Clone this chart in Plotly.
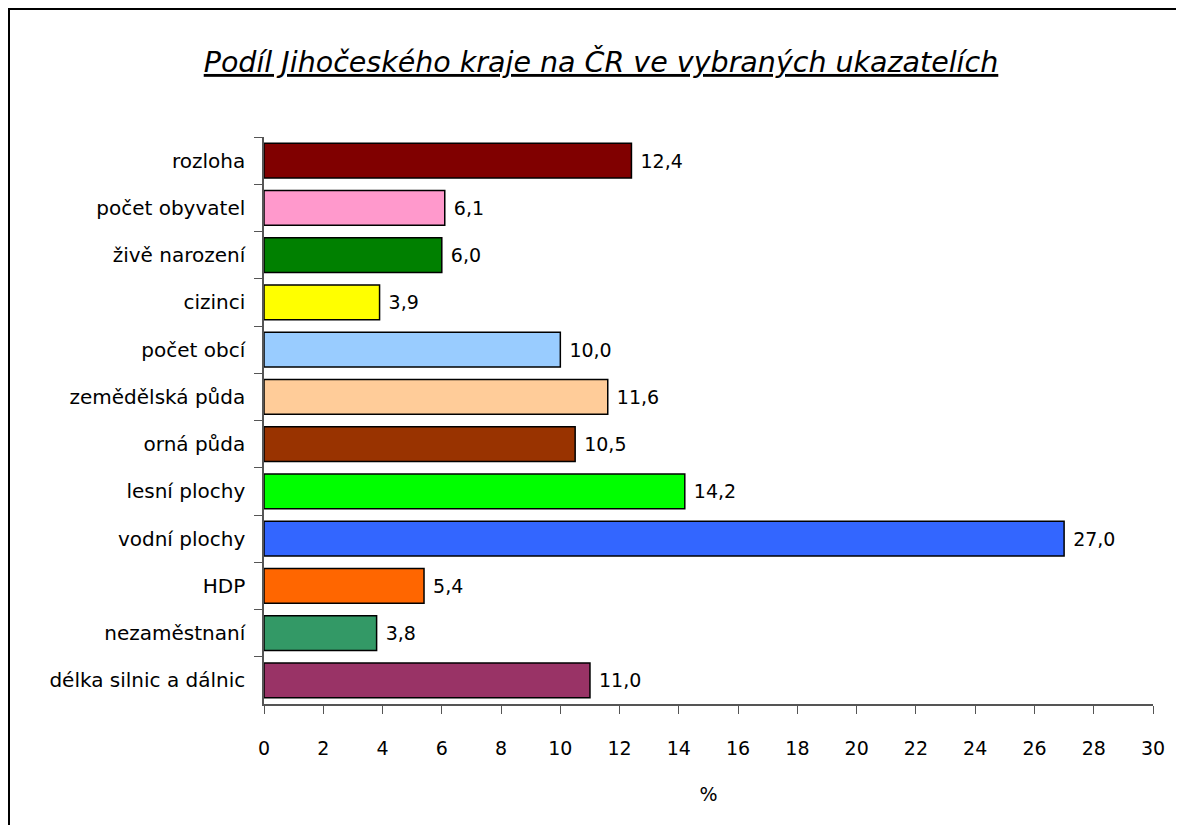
import plotly.graph_objects as go

# shares of the South Bohemian region in the Czech Republic (%)
categories = [
    "rozloha",
    "počet obyvatel",
    "živě narození",
    "cizinci",
    "počet obcí",
    "zemědělská půda",
    "orná půda",
    "lesní plochy",
    "vodní plochy",
    "HDP",
    "nezaměstnaní",
    "délka silnic a dálnic",
]
values = [12.4, 6.1, 6.0, 3.9, 10.0, 11.6, 10.5, 14.2, 27.0, 5.4, 3.8, 11.0]
bar_colors = [
    "#800000", "#FF99CC", "#008000", "#FFFF00", "#99CCFF", "#FFCC99",
    "#993300", "#00FF00", "#3366FF", "#FF6600", "#339966", "#993366",
]
x_ticks = list(range(0, 31, 2))

FONT = "DejaVu Sans"
# page body has an 8px margin, so the figure is a bit smaller than the window
W, H = 1176, 817
ml, mr, mt, mb = 256, 31, 129, 121

fig = go.Figure()
fig.add_trace(
    go.Bar(
        x=values,
        y=categories,
        orientation="h",
        marker=dict(color=bar_colors, line=dict(color="black", width=1.5)),
        texttemplate="\u00a0%{x:.1f}",
        textposition="outside",
        textfont=dict(family=FONT, size=19, color="black"),
        cliponaxis=False,
        showlegend=False,
    )
)

# outer chart border: only left and top edges are visible in the source
pw, ph = W - ml - mr, H - mt - mb
bx0 = (1 - ml) / pw
bx1 = (W - ml) / pw
by0 = -(H - mt - ph) / ph
by1 = (mt - 1) / ph + 1
fig.add_shape(
    type="path", xref="paper", yref="paper",
    path=f"M {bx0},{by0} L {bx0},{by1} L {bx1},{by1}",
    line=dict(color="black", width=2), layer="below",
)

fig.update_layout(
    width=W,
    height=H,
    margin=dict(l=ml, r=mr, t=mt, b=mb),
    paper_bgcolor="white",
    plot_bgcolor="white",
    separators=", ",
    bargap=0.26,
    title=dict(
        text="<u><i>Podíl Jihočeského kraje na ČR ve vybraných ukazatelích</i></u>",
        x=593 / W, xref="container", xanchor="center",
        y=1 - 54 / H, yref="container", yanchor="middle",
        font=dict(family=FONT, size=28.5, color="black"),
    ),
    xaxis=dict(
        range=[0, 30],
        tickvals=x_ticks,
        ticks="outside",
        ticklen=8,
        tickcolor="#555555",
        ticklabelstandoff=18,
        showline=True,
        linecolor="#555555",
        linewidth=1.5,
        showgrid=False,
        zeroline=False,
        tickfont=dict(family=FONT, size=19, color="black"),
        title=dict(text="%", font=dict(family=FONT, size=19, color="black"), standoff=30),
        fixedrange=True,
    ),
    yaxis=dict(
        autorange="reversed",
        ticks="outside",
        tickson="boundaries",
        ticklen=8,
        tickcolor="#555555",
        ticklabelstandoff=13,
        showline=True,
        linecolor="#555555",
        linewidth=1.5,
        showgrid=False,
        tickfont=dict(family=FONT, size=20, color="black"),
        fixedrange=True,
    ),
)

fig.write_html("out.html")
